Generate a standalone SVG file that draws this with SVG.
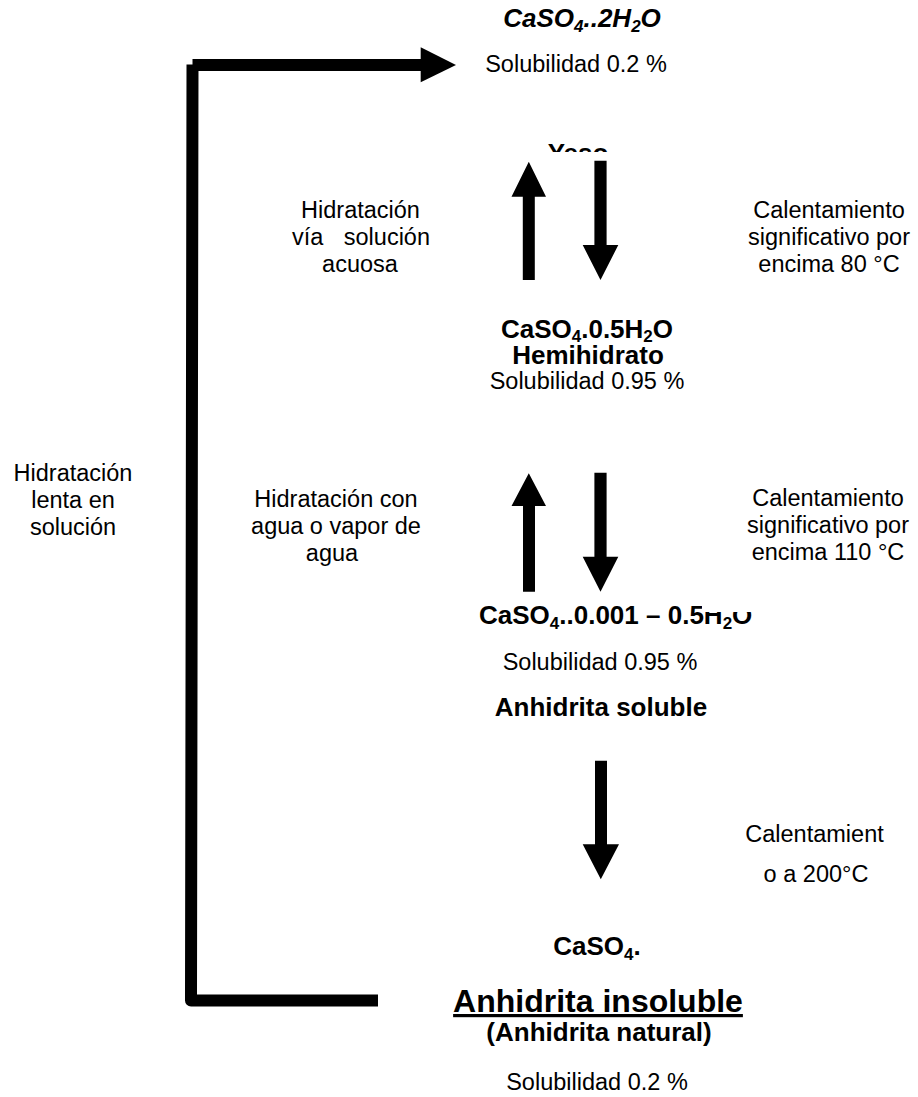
<svg xmlns="http://www.w3.org/2000/svg" width="918" height="1097" viewBox="0 0 918 1097">
<style>
text{font-family:"Liberation Sans",Arial,sans-serif;fill:#000}
.r{font-size:23.5px;text-anchor:middle}
.b{font-size:26px;font-weight:bold;text-anchor:middle}
.arrow{fill:#000}
</style>
<defs>
<clipPath id="clipYeso"><rect x="480" y="0" width="200" height="152"/></clipPath>
<clipPath id="clipH2O"><rect x="0" y="560" width="702" height="100"/><rect x="702" y="612" width="216" height="50"/></clipPath>
</defs>
<rect x="0" y="0" width="918" height="1097" fill="#fff"/>

<g id="connectors">
<path d="M378,1000.5 H191 L192.5,64.5" fill="none" stroke="#000" stroke-width="12" stroke-linejoin="round"/>
<rect x="192.5" y="59" width="229" height="12" class="arrow"/>
<polygon points="420.7,47.3 456,65 420.7,82.3" class="arrow"/>
<polygon points="522.8,280 534.8,280 534.8,196.7 546,196.7 528.8,161.7 511.5,196.7 522.8,196.7" class="arrow"/>
<polygon points="594.4,160.7 606.6,160.7 606.6,245 618.3,245 600.5,280 582.7,245 594.4,245" class="arrow"/>
<polygon points="523,591.7 535,591.7 535,506 546,506 528.8,473.3 511.5,506 523,506" class="arrow"/>
<polygon points="594.4,472.7 606.6,472.7 606.6,556.7 618.3,556.7 600.5,591.7 582.7,556.7 594.4,556.7" class="arrow"/>
<polygon points="595,760.7 607,760.7 607,844.3 619,844.3 600.8,879.3 582.7,844.3 595,844.3" class="arrow"/>
</g>

<g id="yeso">
<text class="b" x="582" y="27" font-style="italic">CaSO<tspan font-size="17" dy="5">4</tspan><tspan dy="-5">..2H</tspan><tspan font-size="17" dy="5">2</tspan><tspan dy="-5">O</tspan></text>
<text class="r" x="576" y="72">Solubilidad 0.2 %</text>
<text class="b" x="578" y="162" clip-path="url(#clipYeso)">Yeso</text>
</g>

<g id="label-hidratacion-1">
<text class="r" x="360.5" y="218">Hidratación</text>
<text class="r" x="292" y="245" style="text-anchor:start">vía</text>
<text class="r" x="430" y="245" style="text-anchor:end">solución</text>
<text class="r" x="360" y="272">acuosa</text>
</g>

<g id="label-calentamiento-1">
<text class="r" x="829" y="218">Calentamiento</text>
<text class="r" x="829" y="245">significativo por</text>
<text class="r" x="829" y="272">encima 80 °C</text>
</g>

<g id="hemihidrato">
<text class="b" x="587" y="338">CaSO<tspan font-size="17" dy="4">4</tspan><tspan dy="-4">.0.5H</tspan><tspan font-size="17" dy="4">2</tspan><tspan dy="-4">O</tspan></text>
<text class="b" x="588" y="364">Hemihidrato</text>
<text class="r" x="587" y="389">Solubilidad 0.95 %</text>
</g>

<g id="label-hidratacion-lenta">
<text class="r" x="73" y="481">Hidratación</text>
<text class="r" x="73" y="508">lenta en</text>
<text class="r" x="73" y="535">solución</text>
</g>

<g id="label-hidratacion-2">
<text class="r" x="336" y="507">Hidratación con</text>
<text class="r" x="336" y="534">agua o vapor de</text>
<text class="r" x="332" y="561">agua</text>
</g>

<g id="label-calentamiento-2">
<text class="r" x="828" y="506">Calentamiento</text>
<text class="r" x="828" y="533">significativo por</text>
<text class="r" x="828" y="560">encima 110 °C</text>
</g>

<g id="anhidrita-soluble">
<text x="479" y="624" font-size="26" font-weight="bold" clip-path="url(#clipH2O)">CaSO<tspan font-size="17" dy="5">4</tspan><tspan dy="-5">..0.001 – 0.5H</tspan><tspan font-size="17" dy="5">2</tspan><tspan dy="-5">O</tspan></text>
<text class="r" x="600" y="670">Solubilidad 0.95 %</text>
<text class="b" x="601" y="716">Anhidrita soluble</text>
</g>

<g id="label-calentamiento-3">
<text class="r" x="814.5" y="842">Calentamient</text>
<text class="r" x="816" y="882">o a 200°C</text>
</g>

<g id="anhidrita-insoluble">
<text class="b" x="597" y="955">CaSO<tspan font-size="17" dy="5">4</tspan><tspan dy="-5">.</tspan></text>
<text class="b" x="598" y="1012" style="font-size:32px" text-decoration="underline">Anhidrita insoluble</text>
<text class="b" x="599" y="1041">(Anhidrita natural)</text>
<text class="r" x="597" y="1090">Solubilidad 0.2 %</text>
</g>
</svg>
